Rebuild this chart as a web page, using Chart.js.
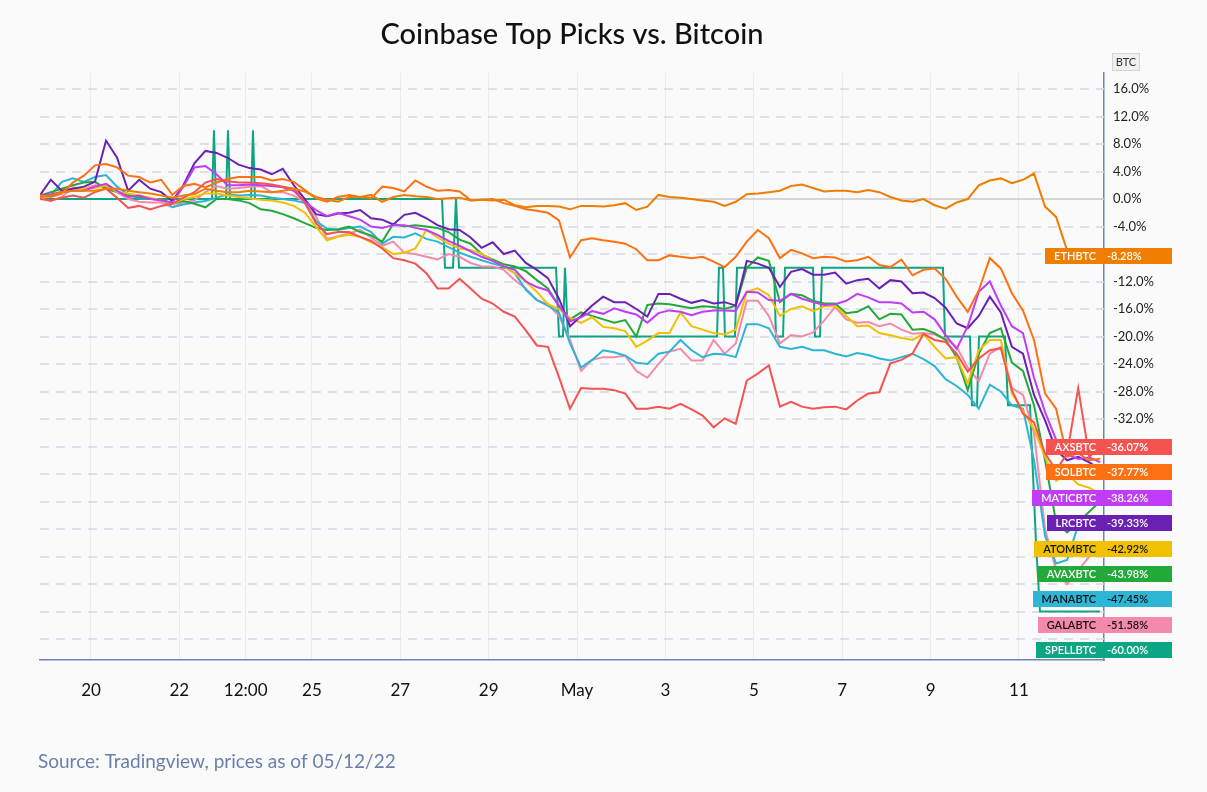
<!DOCTYPE html>
<html><head><meta charset="utf-8">
<script src="https://cdn.jsdelivr.net/npm/chart.js@4.4.1/dist/chart.umd.min.js"></script>
<style>html,body{margin:0;padding:0;background:#fafafa;overflow:hidden}#wrap{width:1207px;height:792px}</style>
</head><body><div id="wrap"><canvas id="c" width="1207" height="792"></canvas></div>
<script>
// time in days since Apr 20 00:00 (6-hour steps)
const times = [
-1.16,-0.91,-0.66,-0.41,-0.16,0.09,0.34,0.59,0.84,1.09,
1.34,1.59,1.84,2.09,2.34,2.59,2.84,3.09,3.34,3.59,
3.84,4.09,4.34,4.59,4.84,5.09,5.34,5.59,5.84,6.09,
6.34,6.59,6.84,7.09,7.34,7.59,7.84,8.09,8.34,8.59,
8.84,9.09,9.34,9.59,9.84,10.09,10.34,10.59,10.84,11.09,
11.34,11.59,11.84,12.09,12.34,12.59,12.84,13.09,13.34,13.59,
13.84,14.09,14.34,14.59,14.84,15.09,15.34,15.59,15.84,16.09,
16.34,16.59,16.84,17.09,17.34,17.59,17.84,18.09,18.34,18.59,
18.84,19.09,19.34,19.59,19.84,20.09,20.34,20.59,20.84,21.09,
21.34,21.59,21.84,22.09,22.34,22.59,22.84];

const ethbtc = [
0.3,0.5,1.0,1.2,1.2,1.2,1.5,1.5,1.2,1.0,
0.8,0.5,0.2,0.5,0.7,1.5,1.2,1.0,1.0,1.2,
1.1,1.0,1.2,1.5,1.1,0.3,-0.1,-0.4,0.3,0.3,
0.6,-0.4,0.3,0.6,0.4,0.3,0.0,0.1,0.2,-0.2,
-0.1,-0.2,-0.1,-0.9,-1.2,-1.0,-1.0,-1.1,-1.5,-1.0,
-1.0,-1.1,-0.9,-0.6,-1.6,-1.1,0.6,0.3,0.2,0.0,
-0.2,-0.4,-1.0,-0.4,0.7,0.8,1.0,1.2,1.9,2.1,
1.6,1.1,1.2,1.2,1.0,1.3,1.0,0.3,-0.2,-0.4,
0.0,-0.9,-1.4,-0.5,0.0,2.0,2.7,3.0,2.3,2.8,
3.7,-1.1,-2.6,-7.5,-8.8,-9.0,-8.28];

const axsbtc = [
0.0,-0.2,0.2,0.5,0.2,1.0,1.5,0.2,-1.3,-1.0,
-1.5,-1.0,-0.7,0.2,1.0,2.4,2.9,2.6,2.4,2.4,
2.3,2.1,1.8,1.5,-0.5,-3.5,-5.1,-4.8,-4.8,-5.5,
-6.1,-7.2,-8.6,-8.9,-9.4,-10.8,-13.0,-13.0,-11.6,-13.0,
-14.5,-15.2,-16.4,-17.1,-19.1,-21.3,-21.5,-25.9,-30.5,-27.5,
-27.6,-27.6,-27.8,-28.3,-30.5,-30.5,-30.2,-30.5,-29.8,-30.6,
-31.5,-33.2,-31.9,-32.7,-26.4,-25.4,-24.2,-30.2,-29.5,-30.2,
-30.5,-30.3,-30.2,-30.6,-29.3,-28.3,-28.1,-23.9,-23.4,-22.5,
-19.6,-20.5,-20.8,-22.5,-25.1,-23.2,-22.0,-21.7,-27.8,-31.2,
-32.5,-37.0,-39.5,-37.0,-27.5,-37.5,-36.07];

const solbtc = [
0.5,0.3,0.8,2.4,3.4,4.9,5.1,4.6,3.4,3.2,
2.4,2.8,0.6,1.9,2.2,1.7,2.4,2.9,3.2,3.2,
3.2,2.7,2.9,2.5,1.3,0.1,-0.4,0.3,0.6,0.3,
0.1,1.8,1.6,1.1,2.7,1.8,1.2,1.3,1.1,-0.2,
-0.1,0.0,-0.6,-1.0,-1.5,-1.7,-2.0,-3.1,-8.5,-6.0,
-5.7,-6.0,-6.2,-6.5,-7.3,-8.9,-8.9,-8.2,-8.4,-8.6,
-8.4,-9.1,-9.9,-8.4,-6.2,-4.5,-5.7,-8.6,-7.4,-7.9,
-8.6,-8.4,-8.5,-9.1,-8.9,-8.4,-9.6,-9.9,-8.8,-11.1,
-10.3,-10.1,-11.6,-14.2,-16.4,-13.3,-8.6,-10.1,-13.7,-16.2,
-20.5,-28.3,-30.5,-37.5,-37.0,-38.0,-37.77];

const maticbtc = [
0.5,0.7,1.0,1.2,1.2,1.8,2.2,1.2,0.3,0.5,
0.0,-0.2,-0.5,1.8,4.6,4.8,3.6,2.0,2.0,2.1,
2.0,1.9,1.7,1.2,-0.4,-1.6,-2.5,-2.0,-2.5,-3.0,
-4.0,-4.2,-3.8,-3.8,-4.2,-4.5,-5.2,-6.1,-6.8,-7.6,
-8.4,-9.0,-9.8,-10.3,-12.0,-12.8,-13.3,-15.5,-17.8,-17.2,
-16.3,-16.7,-15.9,-16.4,-16.8,-18.0,-16.6,-16.2,-16.4,-16.9,
-16.4,-16.2,-16.2,-16.3,-13.5,-13.6,-14.7,-14.8,-13.8,-14.5,
-15.0,-15.4,-15.3,-14.8,-13.8,-14.3,-15.0,-15.0,-15.2,-16.5,
-16.4,-17.5,-19.8,-21.8,-18.5,-13.5,-12.0,-15.5,-18.5,-19.5,
-26.0,-31.0,-35.0,-37.2,-37.8,-37.6,-38.26];

const lrcbtc = [
0.5,2.8,1.2,1.5,1.8,2.5,8.5,6.0,1.2,2.8,
1.5,1.0,-0.3,2.0,5.2,7.0,6.7,6.0,5.0,4.5,
4.3,3.6,4.4,2.0,0.0,-2.2,-2.5,-2.1,-2.0,-1.6,
-2.8,-3.0,-3.7,-2.3,-2.0,-2.8,-3.8,-4.4,-4.5,-5.6,
-7.1,-6.3,-8.0,-7.5,-9.3,-10.3,-11.5,-14.5,-18.5,-17.0,
-15.5,-14.2,-15.0,-15.0,-16.0,-17.1,-13.8,-13.8,-14.5,-15.1,
-14.7,-15.2,-15.0,-15.5,-9.0,-9.4,-10.0,-12.8,-10.6,-10.2,
-11.0,-11.0,-10.7,-12.3,-11.8,-11.6,-13.0,-11.8,-12.0,-13.7,
-13.6,-14.4,-15.8,-18.1,-18.8,-17.0,-14.2,-16.5,-21.5,-22.5,
-28.5,-32.2,-36.5,-38.0,-37.5,-38.3,-39.33];

const atombtc = [
0.2,0.5,1.2,1.5,1.5,1.6,2.0,1.0,0.8,0.5,
0.2,-0.2,-0.7,0.0,0.3,0.8,0.8,0.5,0.3,0.1,
-0.1,-0.2,-0.5,-1.0,-2.0,-4.0,-6.0,-5.5,-5.2,-5.5,
-6.3,-7.0,-8.0,-7.8,-7.2,-4.5,-5.6,-6.5,-7.2,-7.4,
-7.9,-9.0,-9.8,-10.8,-12.0,-13.5,-15.3,-16.0,-17.3,-18.0,
-17.2,-18.6,-18.8,-19.2,-21.5,-20.6,-19.5,-19.5,-16.5,-18.5,
-19.0,-19.5,-19.7,-19.0,-13.5,-13.0,-14.0,-17.0,-16.0,-15.6,
-16.3,-15.6,-15.6,-17.0,-18.5,-18.4,-19.5,-19.8,-20.2,-20.5,
-19.6,-21.5,-23.2,-23.0,-26.8,-22.0,-20.5,-20.5,-28.3,-30.8,
-33.5,-37.5,-41.0,-40.0,-41.5,-42.0,-42.92];

const avaxbtc = [
0.5,1.0,1.5,2.0,2.4,2.5,1.5,1.0,0.6,0.3,
0.0,0.0,-0.7,-0.3,-0.7,-1.2,0.0,0.0,-0.2,-0.6,
-1.5,-1.7,-2.2,-2.8,-3.5,-4.2,-4.5,-4.4,-4.0,-4.8,
-5.3,-6.2,-3.6,-4.0,-3.8,-4.0,-4.2,-4.8,-5.9,-6.5,
-8.0,-8.8,-9.5,-9.8,-10.5,-11.8,-13.0,-15.6,-17.5,-16.5,
-17.0,-17.5,-18.0,-17.6,-20.0,-15.4,-15.2,-15.3,-15.6,-15.9,
-15.6,-15.7,-16.0,-15.5,-10.0,-8.5,-9.0,-15.0,-13.8,-14.0,
-14.8,-15.2,-15.2,-16.6,-16.4,-15.6,-17.5,-16.7,-16.8,-19.0,
-18.9,-19.5,-20.5,-23.0,-27.8,-22.5,-19.5,-18.8,-23.8,-25.0,
-30.0,-38.0,-47.0,-48.5,-47.0,-45.5,-43.98];

const manabtc = [
0.2,0.5,2.5,3.0,2.5,3.2,3.5,1.8,0.6,0.1,
0.0,0.0,-1.2,-0.8,-0.5,-0.3,0.2,0.7,0.5,0.6,
0.5,0.2,0.0,-0.2,-0.6,-3.2,-4.3,-4.5,-4.2,-4.0,
-4.8,-6.5,-5.5,-5.6,-5.0,-5.8,-6.2,-7.0,-7.8,-8.4,
-8.9,-9.4,-9.8,-10.8,-13.2,-14.7,-15.5,-16.5,-21.0,-24.5,
-23.4,-22.0,-22.3,-22.8,-23.8,-24.0,-22.5,-22.2,-20.5,-22.0,
-23.0,-22.5,-22.6,-23.0,-18.2,-18.2,-18.8,-21.5,-21.8,-21.5,
-22.0,-22.0,-22.5,-22.9,-22.4,-22.7,-23.2,-23.5,-23.0,-22.5,
-23.3,-24.3,-26.2,-27.2,-28.5,-30.5,-27.0,-28.0,-30.0,-30.5,
-38.0,-49.0,-53.0,-52.5,-47.4,-46.5,-47.45];

const galabtc = [
0.2,-0.3,0.3,1.7,1.5,2.0,1.8,1.0,0.0,-0.4,
-0.5,-0.5,-1.2,-0.5,-0.2,1.0,1.9,1.5,1.6,1.8,
1.9,1.0,1.0,0.5,-0.4,-2.5,-5.8,-5.4,-5.0,-4.5,
-5.6,-6.8,-6.2,-7.8,-8.0,-8.4,-8.8,-8.0,-8.4,-9.3,
-9.8,-9.8,-10.3,-11.8,-13.0,-14.7,-15.3,-17.0,-20.5,-25.0,
-23.4,-23.0,-23.0,-22.8,-25.0,-26.0,-24.0,-22.2,-21.8,-23.5,
-23.5,-20.5,-22.5,-21.0,-14.8,-14.8,-17.0,-21.0,-19.8,-20.0,
-19.4,-17.7,-15.7,-17.5,-18.0,-17.9,-18.5,-18.1,-19.0,-19.6,
-19.5,-19.7,-20.3,-21.5,-24.5,-26.5,-22.5,-21.5,-27.5,-28.5,
-34.0,-48.0,-54.0,-56.0,-54.0,-52.0,-51.58];

// SPELLBTC moves in steps; its own timestamps (days since Apr 20)
const spellTimes = [
-1.154,2.738,2.783,2.829,3.055,3.100,3.146,3.621,3.666,3.711,
7.943,8.011,8.192,8.260,8.328,10.523,10.591,10.681,10.726,10.794,
14.166,14.211,14.302,14.347,14.573,14.619,15.456,15.501,15.660,15.705,
16.339,16.384,16.497,16.542,19.280,19.325,19.891,19.937,20.050,20.095,
20.683,20.751,21.249,21.317,21.385,21.475,22.833];
const spellbtc = [
0,0,10,0,0,10,0,0,10,0,
0,-10,-10,0,-10,-10,-20,-20,-10,-20,
-20,-10,-10,-20,-20,-10,-10,-20,-20,-10,
-10,-20,-20,-10,-10,-20,-20,-30,-30,-20,
-20,-30,-30,-40,-50,-60,-60];

const xTickValues = [0,2,3.5,5,7,9,11,13,15,17,19,21];
const xTickLabels = ['20','22','12:00','25','27','29','May','3','5','7','9','11'];
const yTickValues = [16,12,8,4,0,-4,-8,-12,-16,-20,-24,-28,-32];
const gridValues = [16,12,8,4,0,-4,-8,-12,-16,-20,-24,-28,-32,-36,-40,-44,-48,-52,-56,-60,-64];

const seriesDefs = [
  {name:'ETHBTC',   t:times, v:ethbtc,   color:'#ee7d00', text:'#ffffff'},
  {name:'AXSBTC',   t:times, v:axsbtc,   color:'#f55350', text:'#ffffff'},
  {name:'SOLBTC',   t:times, v:solbtc,   color:'#fe7112', text:'#ffffff'},
  {name:'MATICBTC', t:times, v:maticbtc, color:'#c03cf6', text:'#ffffff'},
  {name:'LRCBTC',   t:times, v:lrcbtc,   color:'#6a21b3', text:'#ffffff'},
  {name:'ATOMBTC',  t:times, v:atombtc,  color:'#f1c100', text:'#111111'},
  {name:'AVAXBTC',  t:times, v:avaxbtc,  color:'#23a93a', text:'#ffffff'},
  {name:'MANABTC',  t:times, v:manabtc,  color:'#2cb5d5', text:'#111111'},
  {name:'GALABTC',  t:times, v:galabtc,  color:'#f48aab', text:'#111111'},
  {name:'SPELLBTC', t:spellTimes, v:spellbtc, color:'#0ea585', text:'#ffffff'}
];

const datasets = seriesDefs.map(s => ({
  label: s.name,
  data: s.v.map((val, i) => ({x: s.t[i], y: val})),
  borderColor: s.color,
  backgroundColor: s.color,
  borderWidth: 2,
  pointRadius: 0,
  tension: 0,
  fill: false
}));

const decor = {
  id: 'decor',
  beforeDraw(chart) {
    const ctx = chart.ctx;
    ctx.save();
    ctx.fillStyle = '#fafafa';
    ctx.fillRect(0, 0, chart.width, chart.height);
    ctx.restore();
  },
  beforeDatasetsDraw(chart) {
    const {ctx, chartArea: a} = chart;
    const y = chart.scales.y;
    ctx.save();
    for (const v of gridValues) {
      const py = Math.round(y.getPixelForValue(v));
      ctx.beginPath();
      if (v === 0) { ctx.setLineDash([]); ctx.strokeStyle = '#c8c8c8'; ctx.lineWidth = 1.5; }
      else { ctx.setLineDash([9, 7]); ctx.strokeStyle = '#d2d8e2'; ctx.lineWidth = 1.5; }
      ctx.moveTo(a.left, py); ctx.lineTo(a.right, py); ctx.stroke();
    }
    ctx.restore();
  },
  afterDraw(chart) {
    const {ctx} = chart;
    const y = chart.scales.y;
    ctx.save();
    // title
    ctx.fillStyle = '#111111';
    ctx.font = '500 29px Lato';
    ctx.textAlign = 'center';
    ctx.textBaseline = 'middle';
    ctx.fillText('Coinbase Top Picks vs. Bitcoin', 572, 35);
    // source
    ctx.fillStyle = '#6a7fa9';
    ctx.font = '19px Lato';
    ctx.textAlign = 'left';
    ctx.fillText('Source: Tradingview, prices as of 05/12/22', 38, 762);
    // BTC box
    ctx.fillStyle = '#f0f0f0';
    ctx.strokeStyle = '#d0d3d8';
    ctx.lineWidth = 1;
    ctx.fillRect(1112.5, 53.5, 27, 17);
    ctx.strokeRect(1112.5, 53.5, 27, 17);
    ctx.fillStyle = '#333333';
    ctx.font = '11px Lato';
    ctx.textAlign = 'center';
    ctx.fillText('BTC', 1126, 62.5);
    // end-value labels
    const items = seriesDefs.map(s => ({s, v: s.v[s.v.length - 1]})).sort((a, b) => b.v - a.v);
    let prev = -Infinity;
    ctx.font = '600 11px Lato';
    for (const it of items) {
      let py = y.getPixelForValue(it.v);
      if (py < prev + 25.4) py = prev + 25.4;
      prev = py;
      const nameW = ctx.measureText(it.s.name).width;
      const left = Math.round(1096 - nameW - 9);
      ctx.fillStyle = it.s.color;
      ctx.fillRect(left, Math.round(py - 8), 1172 - left, 16);
      ctx.fillStyle = it.s.text;
      ctx.textBaseline = 'middle';
      ctx.textAlign = 'right';
      ctx.fillText(it.s.name, 1096, py + 0.5);
      ctx.textAlign = 'left';
      ctx.fillText(it.v.toFixed(2) + '%', 1107, py + 0.5);
    }
    ctx.restore();
  }
};

new Chart(document.getElementById('c'), {
  type: 'line',
  data: {datasets},
  plugins: [decor],
  options: {
    responsive: false,
    animation: false,
    layout: {padding: {left: 40, top: 73, right: 0, bottom: 0}},
    plugins: {legend: {display: false}, title: {display: false}, tooltip: {enabled: false}},
    scales: {
      x: {
        type: 'linear', min: -1.154, max: 22.924,
        afterBuildTicks: ax => { ax.ticks = xTickValues.map(v => ({value: v})); },
        afterFit: ax => { ax.height = 132; },
        ticks: {
          autoSkip: false, maxRotation: 0, padding: 20,
          callback: v => { const i = xTickValues.indexOf(v); return i >= 0 ? xTickLabels[i] : ''; },
          font: {family: 'Lato', size: 17}, color: '#111111'
        },
        grid: {color: '#ececec', lineWidth: 1, drawTicks: false},
        border: {display: true, color: '#6e84b3', width: 1.5}
      },
      y: {
        type: 'linear', position: 'right', min: -67.05, max: 18.33,
        afterBuildTicks: ax => { ax.ticks = yTickValues.map(v => ({value: v})); },
        afterFit: ax => { ax.width = 103; },
        ticks: {
          padding: 9,
          callback: v => v.toFixed(1) + '%',
          font: {family: 'Lato', size: 13}, color: '#222222'
        },
        grid: {display: false, drawTicks: false},
        border: {display: true, color: '#6e84b3', width: 1.5}
      }
    }
  }
});
</script>
</body></html>
